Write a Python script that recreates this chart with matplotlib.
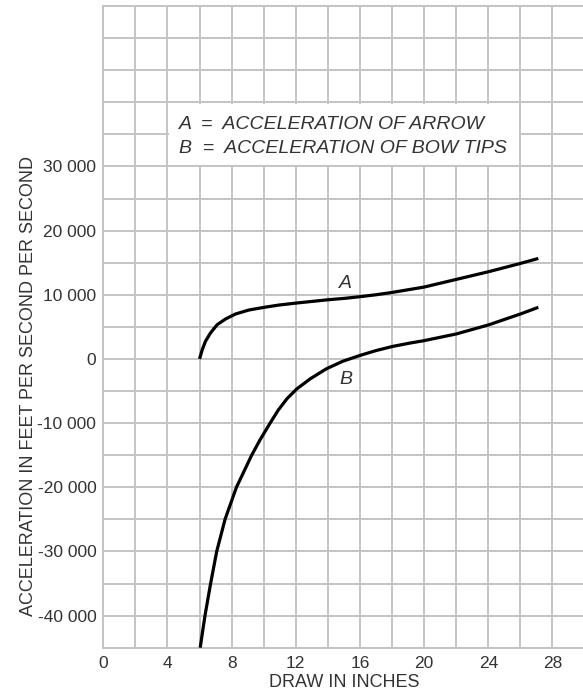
import matplotlib.pyplot as plt
from matplotlib.patches import Rectangle
from matplotlib.ticker import FuncFormatter, MultipleLocator

plt.rcParams['font.family'] = ['Liberation Sans', 'DejaVu Sans']

# curve A: acceleration of arrow
draw_a = [6.0, 6.17, 6.37, 6.68, 7.1, 7.62, 8.24, 9.07, 10.0, 10.93, 12.0, 13.0, 14.0,
          15.08, 16.0, 17.0, 18.0, 20.0, 22.0, 24.0, 26.0, 27.12]
accel_a = [0, 1450, 2750, 4040, 5340, 6220, 7000, 7620, 8030, 8390, 8700, 8960, 9220,
           9450, 9700, 10000, 10360, 11200, 12390, 13580, 14880, 15660]

# curve B: acceleration of bow tips
draw_b = [6.04, 6.34, 6.69, 7.07, 7.59, 8.3, 9.25, 9.75, 10.4, 10.9, 11.45, 12.05, 12.9,
          13.9, 14.93, 15.97, 17.0, 18.04, 19.07, 20.0, 22.0, 24.0, 26.0, 27.12]
accel_b = [-45000, -40000, -35000, -30000, -25000, -20000, -15000, -12700, -10000, -8000,
           -6200, -4700, -3100, -1550, -360, 520, 1300, 1950, 2450, 2850, 3890, 5290,
           7000, 8040]

y_labels = [-40000, -30000, -20000, -10000, 0, 10000, 20000, 30000]
x_labels = [0, 4, 8, 12, 16, 20, 24, 28]

grid_col = "#c4c4c4"
text_col = "#333333"

fig = plt.figure(figsize=(5.83, 6.9), dpi=100)
W, H = 583, 690
ax = fig.add_axes([103.3 / W, 1 - 647.7 / H, 481.2 / W, 641.7 / H])

ax.set_xlim(0, 30)
ax.set_ylim(-45000, 55000)

ax.xaxis.set_minor_locator(MultipleLocator(2))
ax.yaxis.set_minor_locator(MultipleLocator(5000))
ax.set_xticks(x_labels)
ax.set_yticks(y_labels)
ax.yaxis.set_major_formatter(FuncFormatter(lambda v, p: f"{int(v):,}".replace(",", " ")))
ax.grid(which="both", color=grid_col, linewidth=1.4, zorder=0)
ax.set_axisbelow(True)
ax.tick_params(which="both", length=0, labelsize=12.5, colors=text_col)
ax.tick_params(axis="y", pad=5)
ax.tick_params(axis="x", pad=6)
for sp in ax.spines.values():
    sp.set_color(grid_col)
    sp.set_linewidth(1.4)

# legend box sits over the grid
ax.add_patch(Rectangle((4.08, 30250), 21.84, 9500, facecolor="white", edgecolor="none", zorder=1))
ax.text(4.7, 36500, "A  =  ACCELERATION OF ARROW", style="italic", fontsize=14,
        color=text_col, va="center", zorder=2)
ax.text(4.7, 32800, "B  =  ACCELERATION OF BOW TIPS", style="italic", fontsize=14,
        color=text_col, va="center", zorder=2)

for xs, ys in [(draw_a, accel_a), (draw_b, accel_b)]:
    ax.plot(xs, ys, color="black", linewidth=2.3, solid_capstyle="butt",
            solid_joinstyle="round", zorder=3)
ax.text(15.07, 11770, "A", style="italic", fontsize=14, color=text_col, ha="center", va="center")
ax.text(15.1, -3160, "B", style="italic", fontsize=14, color=text_col, ha="center", va="center")

ax.set_xlabel("DRAW IN INCHES", fontsize=13, color=text_col, labelpad=2)
ax.set_ylabel("ACCELERATION IN FEET PER SECOND PER SECOND", fontsize=13, color=text_col)
ax.yaxis.set_label_coords(-0.138, 0.408)

fig.savefig("out.png", dpi=100)
